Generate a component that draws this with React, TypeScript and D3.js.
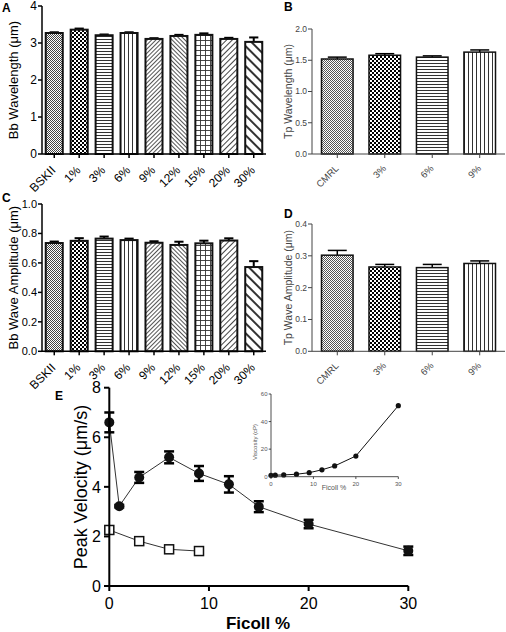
import React from 'react';
import * as d3 from 'd3';

const bbCategories = ['BSKII', '1%', '3%', '6%', '9%', '12%', '15%', '20%', '30%'];
const bbWavelength = [3.27, 3.36, 3.21, 3.27, 3.11, 3.19, 3.22, 3.11, 3.03];
const bbWavelengthErr = [0.02, 0.03, 0.02, 0.02, 0.02, 0.03, 0.04, 0.03, 0.12];
const bbAmplitude = [0.735, 0.75, 0.765, 0.755, 0.737, 0.722, 0.733, 0.752, 0.572];
const bbAmplitudeErr = [0.01, 0.018, 0.014, 0.01, 0.01, 0.022, 0.018, 0.015, 0.04];

const tpCategories = ['CMRL', '3%', '6%', '9%'];
const tpWavelength = [1.52, 1.58, 1.55, 1.63];
const tpWavelengthErr = [0.03, 0.025, 0.02, 0.035];
const tpAmplitude = [0.302, 0.265, 0.263, 0.276];
const tpAmplitudeErr = [0.015, 0.008, 0.01, 0.008];

const ficollBb = [0, 1, 3, 6, 9, 12, 15, 20, 30];
const velocityBb = [6.6, 3.22, 4.38, 5.19, 4.54, 4.1, 3.2, 2.5, 1.42];
const velocityBbErr = [0.4, 0.05, 0.22, 0.24, 0.3, 0.33, 0.22, 0.17, 0.17];
const ficollTp = [0, 3, 6, 9];
const velocityTp = [2.26, 1.81, 1.48, 1.41];
const velocityTpErr = [0.12, 0.04, 0.04, 0.04];

const ficollVisc = [0, 1, 3, 6, 9, 12, 15, 20, 30];
const viscosity = [1.0, 1.1, 1.3, 1.8, 2.9, 5.0, 7.8, 15, 51.5];

const bbPatterns = ['dots', 'checker', 'hlines', 'vlines', 'diagFine', 'diagBackFine', 'grid', 'diagMed', 'diagWide'];
const tpPatterns = ['dotsS', 'checker', 'hlines', 'vlines'];

const FONT = "'Liberation Sans', Arial, Helvetica, sans-serif";

function Patterns() {
  return (
    <defs>
      <pattern id="dots" width="2" height="2" patternUnits="userSpaceOnUse">
        <rect width="2" height="2" fill="#fff" />
        <rect x="0" y="0" width="1" height="1" fill="#444" />
        <rect x="1" y="1" width="1" height="1" fill="#444" />
      </pattern>
      <pattern id="dotsS" width="2" height="2" patternUnits="userSpaceOnUse">
        <rect width="2" height="2" fill="#fff" />
        <rect x="0" y="0" width="1" height="1" fill="#555" />
        <rect x="1" y="1" width="1" height="1" fill="#555" />
      </pattern>
      <pattern id="checker" width="4" height="4" patternUnits="userSpaceOnUse">
        <rect width="4" height="4" fill="#fff" />
        <rect x="0" y="0" width="2" height="2" fill="#000" />
        <rect x="2" y="2" width="2" height="2" fill="#000" />
      </pattern>
      <pattern id="hlines" width="4" height="3" patternUnits="userSpaceOnUse">
        <rect width="4" height="3" fill="#fff" />
        <line x1="0" x2="4" y1="0.5" y2="0.5" stroke="#333" strokeWidth="1" />
      </pattern>
      <pattern id="vlines" width="4" height="4" patternUnits="userSpaceOnUse">
        <rect width="4" height="4" fill="#fff" />
        <line x1="0.5" x2="0.5" y1="0" y2="4" stroke="#333" strokeWidth="1" />
      </pattern>
      <pattern id="diagFine" width="3" height="3" patternUnits="userSpaceOnUse" patternTransform="rotate(45)">
        <rect width="3" height="3" fill="#fff" />
        <line x1="0.5" x2="0.5" y1="0" y2="3" stroke="#555" strokeWidth="1" />
      </pattern>
      <pattern id="diagBackFine" width="3" height="3" patternUnits="userSpaceOnUse" patternTransform="rotate(-45)">
        <rect width="3" height="3" fill="#fff" />
        <line x1="0.5" x2="0.5" y1="0" y2="3" stroke="#555" strokeWidth="1" />
      </pattern>
      <pattern id="grid" width="5" height="5" patternUnits="userSpaceOnUse">
        <rect width="5" height="5" fill="#fff" />
        <line x1="0.5" x2="0.5" y1="0" y2="5" stroke="#333" strokeWidth="0.9" />
        <line x1="0" x2="5" y1="0.5" y2="0.5" stroke="#333" strokeWidth="0.9" />
      </pattern>
      <pattern id="diagMed" width="4" height="4" patternUnits="userSpaceOnUse" patternTransform="rotate(45)">
        <rect width="4" height="4" fill="#fff" />
        <line x1="0.5" x2="0.5" y1="0" y2="4" stroke="#444" strokeWidth="1" />
      </pattern>
      <pattern id="diagWide" width="7" height="7" patternUnits="userSpaceOnUse" patternTransform="rotate(-45)">
        <rect width="7" height="7" fill="#fff" />
        <line x1="1" x2="1" y1="0" y2="7" stroke="#000" strokeWidth="1.6" />
      </pattern>
    </defs>
  );
}

type BarProps = {
  cats: string[];
  vals: number[];
  errs: number[];
  pats: string[];
  xRange: [number, number];
  yRange: [number, number];
  yDomain: [number, number];
  yTicks: number[];
  fmt: (v: number) => string;
  ylabel: string;
  ylabelX: number;
  tickFs: number;
  letter: string;
  letterX: number;
  letterY: number;
  small: boolean;
  pi: number;
  po: number;
};

function BarPanel(p: BarProps) {
  const x = d3.scaleBand<string>().domain(p.cats).range(p.xRange).paddingInner(p.pi).paddingOuter(p.po);
  const y = d3.scaleLinear().domain(p.yDomain).range(p.yRange);
  const bw = x.bandwidth();
  const axX = p.xRange[0];
  const axY = p.yRange[0];
  const col = p.small ? '#444' : '#000';
  const axW = p.small ? 1 : 1.5;
  const barW = p.small ? 1.5 : 2;
  const capHalf = bw * (p.small ? 0.3 : 0.27);
  return (
    <g fontFamily={FONT}>
      <text x={p.letterX} y={p.letterY} fontSize={12} fontWeight="bold" fill="#000">{p.letter}</text>
      {p.cats.map((c, i) => {
        const cx = (x(c) as number) + bw / 2;
        const top = y(p.vals[i]);
        const et = y(p.vals[i] + p.errs[i]);
        return (
          <g key={c}>
            <line x1={cx} x2={cx} y1={top} y2={et} stroke="#000" strokeWidth={barW} />
            <line x1={cx - capHalf} x2={cx + capHalf} y1={et} y2={et} stroke="#000" strokeWidth={barW} />
            <rect x={x(c) as number} y={top} width={bw} height={axY - top} fill={`url(#${p.pats[i]})`} stroke="#111" strokeWidth={barW} />
            <line x1={cx} x2={cx} y1={axY} y2={axY + 4} stroke={col} strokeWidth={axW} />
            <text
              transform={`translate(${cx + 2},${axY + (p.small ? 15 : 17)}) rotate(-45)`}
              textAnchor="end"
              fontSize={p.small ? 9.5 : 12}
              fill={col}
            >{c}</text>
          </g>
        );
      })}
      <line x1={axX} x2={p.xRange[1]} y1={axY} y2={axY} stroke={col} strokeWidth={axW} />
      <line x1={axX} x2={axX} y1={axY} y2={p.yRange[1]} stroke={col} strokeWidth={axW} />
      {p.yTicks.map((t) => (
        <g key={t}>
          <line x1={axX - 4} x2={axX} y1={y(t)} y2={y(t)} stroke={col} strokeWidth={axW} />
          <text x={axX - 5} y={y(t)} dy="0.35em" textAnchor="end" fontSize={p.tickFs} fill={col}>{p.fmt(t)}</text>
        </g>
      ))}
      <text
        transform={`translate(${p.ylabelX},${(p.yRange[0] + p.yRange[1]) / 2}) rotate(-90)`}
        textAnchor="middle"
        fontSize={p.small ? 10.5 : 13}
        fill={col}
      >{p.ylabel}</text>
    </g>
  );
}

function PanelE() {
  const x = d3.scaleLinear().domain([0, 30]).range([109.3, 408.3]);
  const y = d3.scaleLinear().domain([0, 8]).range([586, 387.7]);
  const line = d3.line<number>().x((d, i) => x(ficollBb[i])).y((d) => y(d));
  const lineTp = d3.line<number>().x((d, i) => x(ficollTp[i])).y((d) => y(d));
  return (
    <g fontFamily={FONT}>
      <text x={55} y={400} fontSize={12} fontWeight="bold">E</text>
      <path d={line(velocityBb) || ''} fill="none" stroke="#333" strokeWidth={1} />
      <path d={lineTp(velocityTp) || ''} fill="none" stroke="#333" strokeWidth={1} />
      {ficollBb.map((f, i) => {
        const cx = x(f);
        const y1 = y(velocityBb[i] + velocityBbErr[i]);
        const y2 = y(velocityBb[i] - velocityBbErr[i]);
        return (
          <g key={'b' + f}>
            <line x1={cx} x2={cx} y1={y1} y2={y2} stroke="#000" strokeWidth={2.5} />
            <line x1={cx - 5} x2={cx + 5} y1={y1} y2={y1} stroke="#000" strokeWidth={2.5} />
            <line x1={cx - 5} x2={cx + 5} y1={y2} y2={y2} stroke="#000" strokeWidth={2.5} />
            <circle cx={cx} cy={y(velocityBb[i])} r={5} fill="#111" />
          </g>
        );
      })}
      {ficollTp.map((f, i) => {
        const cx = x(f);
        const y1 = y(velocityTp[i] + velocityTpErr[i]);
        const y2 = y(velocityTp[i] - velocityTpErr[i]);
        return (
          <g key={'t' + f}>
            <line x1={cx} x2={cx} y1={y1} y2={y2} stroke="#000" strokeWidth={1.5} />
            <rect x={cx - 4.5} y={y(velocityTp[i]) - 4.5} width={9} height={9} fill="#fff" stroke="#111" strokeWidth={1.5} />
          </g>
        );
      })}
      <line x1={109.3} x2={408.3} y1={586} y2={586} stroke="#000" strokeWidth={2} />
      <line x1={109.3} x2={109.3} y1={586} y2={387.7} stroke="#000" strokeWidth={2} />
      {[0, 10, 20, 30].map((t) => (
        <g key={t}>
          <line x1={x(t)} x2={x(t)} y1={586} y2={591} stroke="#000" strokeWidth={2} />
          <text x={x(t)} y={609} textAnchor="middle" fontSize={16}>{t}</text>
        </g>
      ))}
      {[0, 2, 4, 6, 8].map((t) => (
        <g key={t}>
          <line x1={104} x2={109.3} y1={y(t)} y2={y(t)} stroke="#000" strokeWidth={2} />
          <text x={101} y={y(t)} dy="0.36em" textAnchor="end" fontSize={16}>{t}</text>
        </g>
      ))}
      <text transform="translate(87,487) rotate(-90)" textAnchor="middle" fontSize={18}>Peak  Velocity (μm/s)</text>
      <text x={258} y={629} textAnchor="middle" fontSize={17} fontWeight="bold">Ficoll %</text>
    </g>
  );
}

function Inset() {
  const x = d3.scaleLinear().domain([0, 30]).range([271, 398.3]);
  const y = d3.scaleLinear().domain([0, 60]).range([476.7, 394]);
  const line = d3.line<number>().x((d, i) => x(ficollVisc[i])).y((d) => y(d));
  const col = '#555';
  return (
    <g fontFamily={FONT}>
      <path d={line(viscosity) || ''} fill="none" stroke="#111" strokeWidth={1} />
      {ficollVisc.map((f, i) => (
        <circle key={f} cx={x(f)} cy={y(viscosity[i])} r={2.6} fill="#111" />
      ))}
      <line x1={271} x2={398.3} y1={476.7} y2={476.7} stroke="#222" strokeWidth={0.8} />
      <line x1={271} x2={271} y1={476.7} y2={394} stroke="#222" strokeWidth={0.8} />
      {[0, 10, 20, 30].map((t) => (
        <g key={t}>
          <line x1={x(t)} x2={x(t)} y1={476.7} y2={479} stroke="#222" strokeWidth={0.8} />
          <text x={x(t)} y={485.5} textAnchor="middle" fontSize={6} fill={col}>{t}</text>
        </g>
      ))}
      {[0, 20, 40, 60].map((t) => (
        <g key={t}>
          <line x1={268.7} x2={271} y1={y(t)} y2={y(t)} stroke="#222" strokeWidth={0.8} />
          <text x={267.5} y={y(t)} dy="0.35em" textAnchor="end" fontSize={6} fill={col}>{t}</text>
        </g>
      ))}
      <text x={334} y={489.5} textAnchor="middle" fontSize={7} fill={col}>Ficoll %</text>
      <text transform="translate(257,442) rotate(-90)" textAnchor="middle" fontSize={6} fill={col}>Viscosity (cP)</text>
    </g>
  );
}

export default function App() {
  return (
    <svg width={506} height={632} style={{ position: 'absolute', left: 0, top: 0, background: '#fff' }}>
      <Patterns />
      <rect width={506} height={632} fill="#fff" />
      <BarPanel
        cats={bbCategories} vals={bbWavelength} errs={bbWavelengthErr} pats={bbPatterns}
        xRange={[42, 266]} yRange={[154, 6]} yDomain={[0, 4]} yTicks={[0, 1, 2, 3, 4]}
        fmt={(v) => d3.format('d')(v)} ylabel="Bb Wavelength (μm)" ylabelX={18} tickFs={12}
        letter="A" letterX={2} letterY={12} small={false} pi={0.317} po={0.15}
      />
      <BarPanel
        cats={tpCategories} vals={tpWavelength} errs={tpWavelengthErr} pats={tpPatterns}
        xRange={[312, 505]} yRange={[154, 29]} yDomain={[0, 2]} yTicks={[0, 0.5, 1, 1.5, 2]}
        fmt={(v) => d3.format('.1f')(v)} ylabel="Tp Wavelength (μm)" ylabelX={292} tickFs={8.5}
        letter="B" letterX={284} letterY={11} small={true} pi={0.335} po={0.2}
      />
      <BarPanel
        cats={bbCategories} vals={bbAmplitude} errs={bbAmplitudeErr} pats={bbPatterns}
        xRange={[42, 266]} yRange={[351.3, 204]} yDomain={[0, 1]} yTicks={[0, 0.2, 0.4, 0.6, 0.8, 1]}
        fmt={(v) => d3.format('.1f')(v)} ylabel="Bb Wave Amplitude (μm)" ylabelX={18} tickFs={11}
        letter="C" letterX={2} letterY={202} small={false} pi={0.317} po={0.15}
      />
      <BarPanel
        cats={tpCategories} vals={tpAmplitude} errs={tpAmplitudeErr} pats={tpPatterns}
        xRange={[312, 505]} yRange={[351.3, 224]} yDomain={[0, 0.4]} yTicks={[0, 0.1, 0.2, 0.3, 0.4]}
        fmt={(v) => d3.format('.1f')(v)} ylabel="Tp Wave Amplitude (μm)" ylabelX={292} tickFs={8.5}
        letter="D" letterX={284} letterY={218} small={true} pi={0.335} po={0.2}
      />
      <PanelE />
      <Inset />
    </svg>
  );
}
